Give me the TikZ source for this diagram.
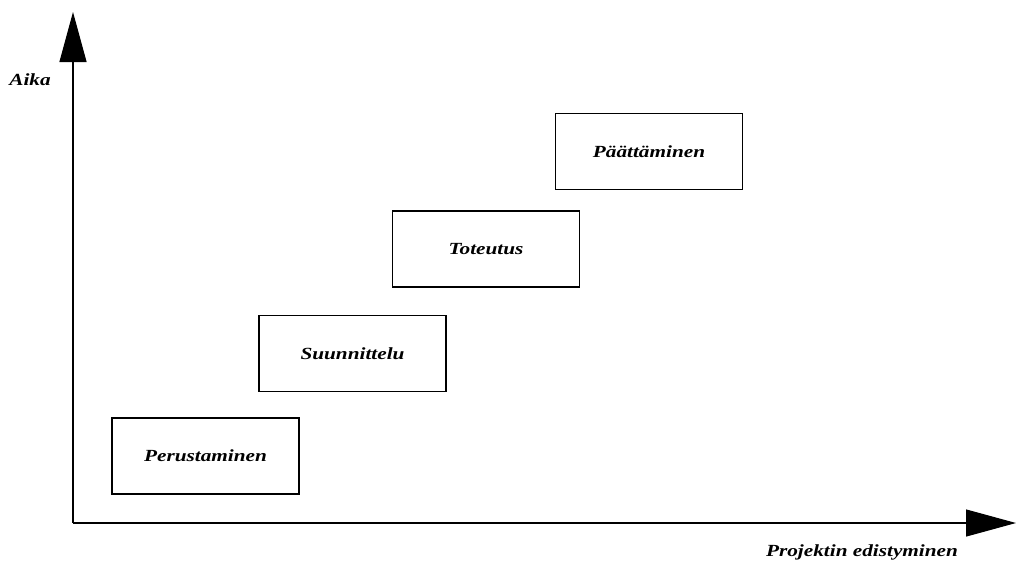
\documentclass[tikz,border=0pt]{standalone}
\usepackage{fontspec}
\setmainfont{Liberation Serif}
\newfontfamily\widefont[FakeStretch=1.25]{Liberation Serif}
\usetikzlibrary{arrows.meta}
\begin{document}
\begin{tikzpicture}[x=1pt,y=-1pt,
  phase/.style={draw=black,line width=1.2pt,minimum width=187pt,minimum height=76pt,font=\widefont\fontsize{17}{20}\selectfont\bfseries\itshape,inner sep=0pt},
  axislabel/.style={font=\widefont\fontsize{17}{20}\selectfont\bfseries\itshape,inner sep=0pt},
  axis/.style={line width=1.2pt,-{Triangle[length=50pt,width=27pt]}}]
\useasboundingbox (0,0) rectangle (1016,563);
\coordinate (o) at (73,523);
\coordinate (ytip) at (73,12);
\coordinate (xtip) at (1016,523);
\draw[axis] (o) -- (ytip);
\draw[axis] (o) -- (xtip);
\node[axislabel] (aika) at (30,80) {Aika};
\node[axislabel] (proj) at (862,552) {Projektin edistyminen};
\node[phase] (p1) at (205.5,456) {Perustaminen};
\node[phase] (p2) at (352.5,353.5) {Suunnittelu};
\node[phase] (p3) at (486,249) {Toteutus};
\node[phase] (p4) at (649,151.5) {Päättäminen};
\end{tikzpicture}
\end{document}
